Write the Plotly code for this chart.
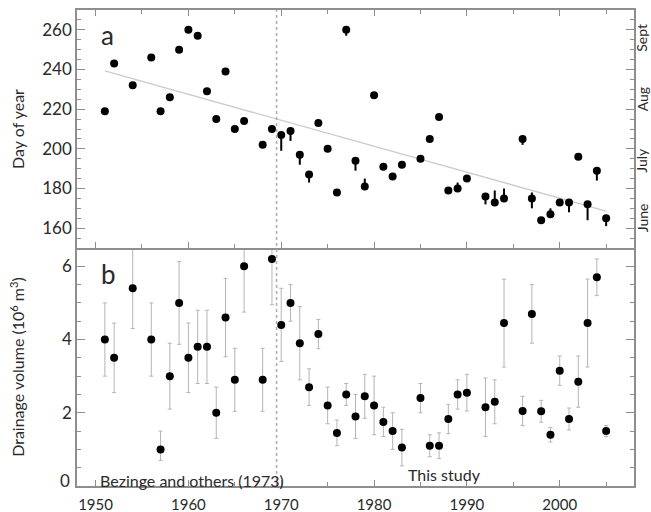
import plotly.graph_objects as go

# Observation years (shared by both panels)
years = [1951, 1952, 1954, 1956, 1957, 1958, 1959, 1960, 1961, 1962,
         1963, 1964, 1965, 1966, 1968, 1969, 1970, 1971, 1972, 1973,
         1974, 1975, 1976, 1977, 1978, 1979, 1980, 1981, 1982, 1983,
         1985, 1986, 1987, 1988, 1989, 1990, 1992, 1993, 1994, 1996,
         1997, 1998, 1999, 2000, 2001, 2002, 2003, 2004, 2005]

# Panel a: day of year of the drainage event, with one-sided ranges
doy = [219, 243, 232, 246, 219, 226, 250, 260, 257, 229,
       215, 239, 210, 214, 202, 210, 207, 209, 197, 187,
       213, 200, 178, 260, 194, 181, 227, 191, 186, 192,
       195, 205, 216, 179, 180, 185, 176, 173, 175, 205,
       175, 164, 167, 173, 173, 196, 172, 189, 165]
doy_up = [0, 0, 0, 0, 0, 0, 0, 0, 0, 0,
          0, 0, 0, 0, 0, 0, 0, 0, 0, 0,
          0, 0, 0, 0, 0, 4, 0, 0, 0, 0,
          0, 0, 0, 0, 3, 0, 0, 6, 5, 0,
          3, 0, 3, 0, 0, 0, 0, 0, 0]
doy_dn = [0, 0, 0, 0, 0, 0, 0, 0, 0, 0,
          0, 0, 0, 0, 0, 0, 8, 5, 5, 4,
          0, 0, 0, 3, 5, 0, 0, 0, 0, 0,
          0, 0, 0, 0, 0, 0, 4, 0, 0, 3,
          5, 0, 0, 0, 5, 0, 8, 5, 4]

# Linear trend of panel a (end points)
trend_years = [1951, 2005]
trend_doy = [239.3, 168.6]

# Panel b: drainage volume (10^6 m^3) with uncertainty
volume = [4.0, 3.5, 5.4, 4.0, 1.0, 3.0, 5.0, 3.5, 3.8, 3.8,
          2.0, 4.6, 2.9, 6.0, 2.9, 6.2, 4.4, 5.0, 3.9, 2.7,
          4.15, 2.2, 1.45, 2.5, 1.9, 2.45, 2.2, 1.75, 1.5, 1.05,
          2.4, 1.1, 1.1, 1.83, 2.5, 2.55, 2.15, 2.3, 4.45, 2.05,
          4.7, 2.04, 1.4, 3.15, 1.83, 2.85, 4.45, 5.7, 1.5]
vol_err_up = [1.0, 0.95, 1.1, 1.0, 0.5, 0.9, 1.13, 0.95, 1.0, 1.0,
              0.7, 1.07, 0.86, 1.25, 0.86, 1.25, 1.0, 0.5, 1.0, 0.5,
              0.4, 0.5, 0.35, 0.3, 0.6, 0.6, 0.8, 0.4, 0.5, 0.5,
              0.4, 0.3, 0.35, 0.4, 0.4, 0.5, 0.8, 0.6, 1.2, 0.4,
              0.8, 0.3, 0.2, 0.4, 0.3, 0.7, 1.2, 0.5, 0.15]
vol_err_dn = [1.0, 0.95, 1.1, 1.0, 0.3, 0.9, 1.13, 0.95, 1.0, 1.0,
              0.7, 1.07, 0.86, 1.25, 0.86, 1.25, 1.0, 0.5, 1.0, 0.5,
              0.4, 0.5, 0.35, 0.3, 0.6, 0.6, 0.8, 0.4, 0.5, 0.5,
              0.4, 0.3, 0.35, 0.4, 0.4, 0.5, 0.8, 0.6, 1.2, 0.4,
              0.8, 0.3, 0.2, 0.4, 0.3, 0.7, 1.2, 0.5, 0.15]

# Month labels on the right of panel a (day of year)
month_names = ["Sept", "Aug", "July", "June"]
month_doy = [256, 225, 194, 165]

split_year = 1969.5
FONT = "Lato"
AXC = "#8e8e8e"
TXT = "#2a2a2a"

fig = go.Figure()

fig.add_trace(go.Scatter(
    x=trend_years, y=trend_doy, mode="lines",
    line=dict(color="#cccccc", width=1.4),
    xaxis="x2", yaxis="y2", hoverinfo="skip"))

fig.add_trace(go.Scatter(
    x=years, y=doy, mode="markers",
    marker=dict(color="black", size=8),
    error_y=dict(type="data", symmetric=False, array=doy_up,
                 arrayminus=doy_dn, color="black", thickness=2, width=0),
    xaxis="x2", yaxis="y2"))

fig.add_trace(go.Scatter(
    x=years, y=volume, mode="markers",
    marker=dict(color="black", size=8),
    error_y=dict(type="data", symmetric=False, array=vol_err_up,
                 arrayminus=vol_err_dn, color="#b4b4b4", thickness=1, width=2),
    xaxis="x", yaxis="y"))

xticks = dict(range=[1948, 2008], ticks="inside", tickcolor=AXC, ticklen=6,
              tickwidth=1, dtick=10, tick0=1950, showgrid=False, zeroline=False,
              automargin=False,
              minor=dict(dtick=5, tick0=1950, ticks="inside", ticklen=4,
                         tickcolor=AXC, showgrid=False))

fig.update_layout(
    width=651, height=512,
    margin=dict(l=77, r=17, t=10, b=26, autoexpand=False),
    paper_bgcolor="white", plot_bgcolor="white",
    showlegend=False,
    font=dict(family=FONT, color=TXT, size=15),
    # bottom panel: bottom axis with year labels
    xaxis=dict(**xticks, anchor="y", showline=True, linecolor=AXC, linewidth=1.5,
               mirror=False, showticklabels=True, ticklabelstandoff=4,
               tickfont=dict(size=15, family=FONT, color=TXT)),
    # top panel: full frame on the x sides (shared boundary line drawn once)
    xaxis2=dict(**xticks, anchor="y2", matches="x", showline=True, linecolor=AXC,
                linewidth=1.5, mirror="ticks", showticklabels=False),
    # downward ticks of panel b along the shared boundary
    xaxis3=dict(**xticks, anchor="y", overlaying="x", side="top", matches="x",
                showline=False, showticklabels=False),
    yaxis=dict(domain=[0, 0.5], range=[0, 6.5], anchor="x", automargin=False,
               showline=True, linecolor=AXC, linewidth=1.5, mirror="ticks",
               ticks="inside", tickcolor=AXC, ticklen=8,
               tickvals=[2, 4, 6],
               tickfont=dict(size=17, family=FONT, color=TXT),
               showgrid=False, zeroline=False,
               minor=dict(dtick=0.5, tick0=0, ticks="inside", ticklen=4,
                          tickcolor=AXC, showgrid=False),
               title=dict(text="Drainage volume (10<sup>6</sup> m<sup>3</sup>)",
                          font=dict(size=16, family=FONT, color=TXT), standoff=33)),
    yaxis2=dict(domain=[0.5, 1], range=[150, 270], anchor="x2", automargin=False,
                showline=True, linecolor=AXC, linewidth=1.5, mirror="ticks",
                ticks="inside", tickcolor=AXC, ticklen=8, dtick=20, tick0=160,
                tickfont=dict(size=17, family=FONT, color=TXT),
                showgrid=False, zeroline=False,
                minor=dict(dtick=5, tick0=150, ticks="inside", ticklen=4,
                           tickcolor=AXC, showgrid=False),
                title=dict(text="Day of year",
                           font=dict(size=16, family=FONT, color=TXT), standoff=14)),
)

# Boundary between the two data sources
fig.add_shape(type="line", x0=split_year, x1=split_year, y0=0, y1=1,
              xref="x", yref="paper",
              line=dict(color="#adadad", width=1.5, dash="dot"))

annotations = [
    dict(text="a", x=0.04, y=0.947, xref="paper", yref="paper",
         xanchor="left", yanchor="middle", showarrow=False,
         font=dict(size=26, family=FONT, color=TXT)),
    dict(text="b", x=0.04, y=0.445, xref="paper", yref="paper",
         xanchor="left", yanchor="middle", showarrow=False,
         font=dict(size=26, family=FONT, color=TXT)),
    dict(text="Bezinge and others (1973)", x=1960.4, y=0, xref="x", yref="y",
         yshift=6, showarrow=False, xanchor="center",
         font=dict(size=16, family=FONT, color=TXT)),
    dict(text="This study", x=1987.6, y=0, xref="x", yref="y",
         yshift=12, showarrow=False, xanchor="center",
         font=dict(size=16, family=FONT, color=TXT)),
    dict(text="0", x=0, y=0, xref="paper", yref="y", xanchor="right",
         xshift=-5, yshift=6, showarrow=False,
         font=dict(size=17, family=FONT, color=TXT)),
]
for name, d in zip(month_names, month_doy):
    annotations.append(dict(text=name, x=1, y=d, xref="paper", yref="y2",
                            xanchor="center", xshift=8, textangle=-90,
                            showarrow=False,
                            font=dict(size=14, family=FONT, color=TXT)))
fig.update_layout(annotations=annotations)

fig.write_html("out.html")
